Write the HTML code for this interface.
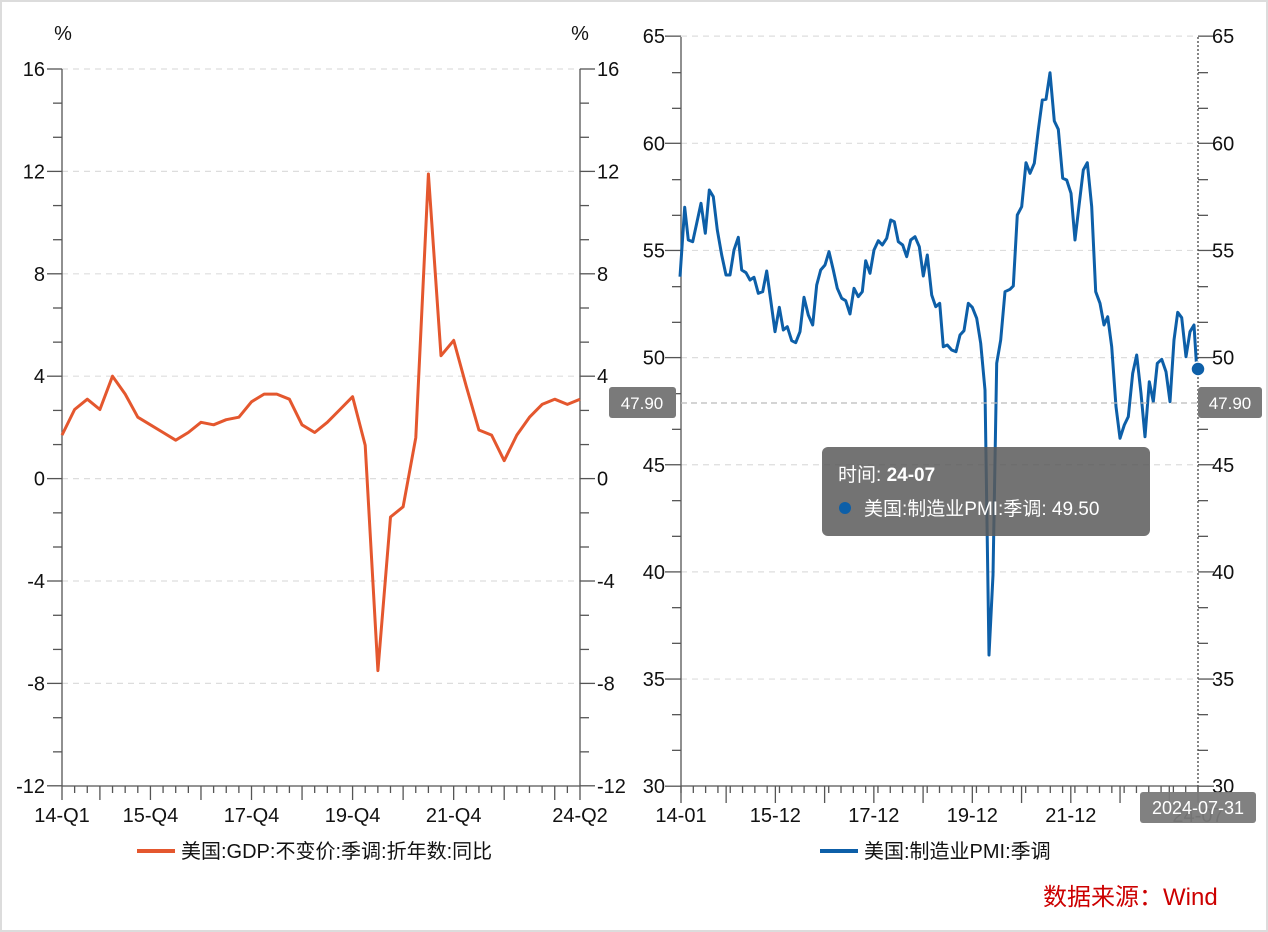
<!DOCTYPE html>
<html><head><meta charset="utf-8"><style>
html,body{margin:0;padding:0;background:#fff}
svg{display:block}
text{font-family:"Liberation Sans","Noto Sans CJK SC",sans-serif}
</style></head><body>
<svg id="s" width="1268" height="932" xmlns="http://www.w3.org/2000/svg">
<rect x="1" y="1" width="1266" height="930" fill="#fff" stroke="#dcdcdc" stroke-width="2"/>
<g id="g"></g>
</svg>
<script>
var NS="http://www.w3.org/2000/svg",g=document.getElementById('g');
function el(t,a,txt){var e=document.createElementNS(NS,t);for(var k in a)e.setAttribute(k,a[k]);if(txt!==undefined)e.textContent=txt;g.appendChild(e);return e;}
function line(x1,y1,x2,y2,c,w,d){var a={x1:x1,y1:y1,x2:x2,y2:y2,stroke:c||'#555','stroke-width':w||1.3};if(d)a['stroke-dasharray']=d;return el('line',a);}
function txt(x,y,s,o){o=o||{};var a={x:x,y:y,'font-size':o.fs||20,fill:o.fill||'#111','text-anchor':o.a||'start'};if(o.fw)a['font-weight']=o.fw;return el('text',a,s);}
// LEFT CHART
var L0=62,L1=580,T=69,B=786;function ly(v){return 478.6-v*25.6;}
for(var v=16;v>-12;v-=4)line(L0,ly(v),L1,ly(v),'#ddd',1.2,'6 5');
line(L0,T,L0,B);line(L1,T,L1,B);line(L0,B,L1,B);
for(var v=16;v>=-12;v-=4){line(47,ly(v),L0,ly(v));line(L1,ly(v),595,ly(v));
 txt(45,ly(v)+7,String(v),{a:'end'});txt(597,ly(v)+7,String(v));}
for(var k=0;k<=21;k++){if(k%3==0)continue;var y=T+k*(B-T)/21;line(53,y,L0,y);line(L1,y,589,y);}
txt(63,40,'%',{a:'middle'});txt(580,40,'%',{a:'middle'});
var dq=(L1-L0)/41;
for(var i=0;i<=41;i++){var x=L0+i*dq;var lg=(i%4==3)||i==0||i==41;line(x,B,x,B+(lg?14:7));}
[['14-Q1',0],['15-Q4',7],['17-Q4',15],['19-Q4',23],['21-Q4',31],['24-Q2',41]].forEach(function(p){txt(L0+p[1]*dq,822,p[0],{a:'middle'});});
var gdp=[1.7,2.7,3.1,2.7,4.0,3.3,2.4,2.1,1.8,1.5,1.8,2.2,2.1,2.3,2.4,3.0,3.3,3.3,3.1,2.1,1.8,2.2,2.7,3.2,1.3,-7.5,-1.5,-1.1,1.6,11.9,4.8,5.4,3.6,1.9,1.7,0.7,1.7,2.4,2.9,3.1,2.9,3.1];
el('polyline',{points:gdp.map(function(v,i){return (L0+i*dq).toFixed(1)+','+ly(v).toFixed(1)}).join(' '),fill:'none',stroke:'#e4572e','stroke-width':3,'stroke-linejoin':'round'});
line(137,851,175,851,'#e4572e',4);txt(181,858,'美国:GDP:不变价:季调:折年数:同比');
// RIGHT CHART
var R0=681,R1=1198,RT=37,RB=786;function ry(v){return 357.6-(v-50)*21.43;}
for(var v=65;v>30;v-=5)line(R0,ry(v),R1,ry(v),'#ddd',1.2,'6 5');
line(R0,RT,R0,RB);line(R0,RB,R1,RB);
line(R1,RT,R1,RB,'#444',1.3,'2 2');
for(var v=65;v>=30;v-=5){line(665,ry(v),R0,ry(v));line(R1,ry(v),1214,ry(v));
 txt(665,ry(v)+7,String(v),{a:'end'});txt(1212,ry(v)+7,String(v));}
for(var k=0;k<=21;k++){if(k%3==0)continue;var y=RT+k*(RB-RT)/21;line(672,y,R0,y);line(R1,y,1208,y);}
var dm=(R1-R0)/126;
for(var i=0;i<=126;i+=3){var x=R0+i*dm;line(x,RB,x,RB+7);}
for(var i=11;i<126;i+=12){var x=R0+i*dm;line(x,RB,x,RB+17);}
line(R0,RB,R0,RB+17);line(R1,RB,R1,RB+17);
[['14-01',0],['15-12',23],['17-12',47],['19-12',71],['21-12',95],['24-07',126]].forEach(function(p){txt(R0+p[1]*dm,822,p[0],{a:'middle'});});
var z3=[[0,320],[14,112],[25,210],[38,215],[50,160],[63,100],[76,190],[88,60],[100,80],[112,180],[125,255],[138,315],[150,315],[162,240],[175,202],[185,300],[198,308],[210,330],[222,322],[235,370],[248,365],[260,303],[272,390],[285,485],[298,412],[310,480],[322,470],[335,512],[347,518],[360,485],[372,382],[385,435],[398,465],[410,345],[422,300],[435,285],[447,245],[460,300],[472,355],[485,385],[497,392],[510,432],[522,355],[535,380],[547,365],[557,272],[570,310],[582,240],[595,212],[607,225],[620,205],[632,150],[643,155],[655,215],[668,225],[680,260],[692,210],[705,200],[718,230],[730,318],[742,255],[755,375],[767,410],[779,400]];
var z4=[[10,860],[22,855],[35,870],[48,875],[60,825],[72,812],[85,730],[97,742],[110,775],[122,850],[135,990],[147,1785],[159,1545],[170,910],[182,840],[195,695],[210,688],[220,678],[232,465],[245,440],[258,308],[270,340],[283,310],[295,210],[307,120],[318,118],[330,38],[343,183],[355,208],[368,355],[380,360],[393,400],[405,540],[418,430],[430,330],[442,308],[455,440],[467,695],[480,730],[492,795],[503,770],[515,860],[528,1040],[540,1135],[553,1095],[565,1070],[578,940],[590,885],[603,1000],[615,1130],[628,965],[640,1025],[652,910],[665,898],[678,935],[690,1025],[702,840],[713,757],[725,773],[738,890],[750,815],[762,795],[770,925]];
var pts=z3.map(function(p){return (680+p[0]/3).toFixed(1)+','+(170+p[1]/3).toFixed(1)}).concat(z4.map(function(p){return (940+p[0]/3).toFixed(1)+','+(60+p[1]/3).toFixed(1)}));
el('polyline',{points:pts.join(' '),fill:'none',stroke:'#0d5fa8','stroke-width':3,'stroke-linejoin':'round'});
// crosshair
line(R0,403,R1,403,'#bbb',1.2,'6 4');
el('rect',{x:609,y:387,width:67,height:31,rx:3,fill:'#7a7a7a'});txt(642,409,'47.90',{a:'middle',fill:'#fff',fs:17});
el('rect',{x:1198,y:387,width:64,height:31,rx:3,fill:'#7a7a7a'});txt(1230,409,'47.90',{a:'middle',fill:'#fff',fs:17});
el('circle',{cx:1198,cy:369,r:7,fill:'#0d5fa8',stroke:'#fff','stroke-width':1.5});
el('rect',{x:1140,y:792,width:116,height:31,rx:3,fill:'#7a7a7a','fill-opacity':0.95});txt(1198,814,'2024-07-31',{a:'middle',fill:'#fff',fs:18});
// tooltip
el('rect',{x:822,y:447,width:328,height:89,rx:6,fill:'#5a5a5a','fill-opacity':0.85});
var t=txt(838,481,'时间: ',{fill:'#fff',fs:19});var ts=document.createElementNS(NS,'tspan');ts.setAttribute('font-weight','bold');ts.textContent='24-07';t.appendChild(ts);
el('circle',{cx:845,cy:508,r:6,fill:'#0d5fa8'});
txt(864,515,'美国:制造业PMI:季调: 49.50',{fill:'#fff',fs:19});
line(820,851,858,851,'#0d5fa8',4);txt(864,858,'美国:制造业PMI:季调');
txt(1043,905,'数据来源：Wind',{fill:'#cc0000',fs:24});
</script>
</body></html>
